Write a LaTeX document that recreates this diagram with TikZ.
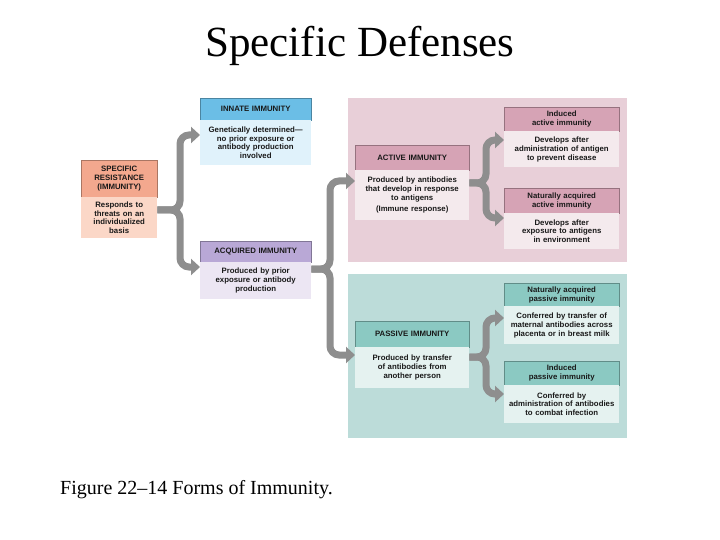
\documentclass[tikz,border=0pt]{standalone}
\usepackage{fontspec}
\setmainfont{Liberation Serif}
\newfontfamily\lsans{Liberation Sans}
\usetikzlibrary{arrows.meta}
\definecolor{arrowgray}{HTML}{8E8E8E}
\tikzset{
  x=1pt,y=-1pt,
  box/.style={anchor=north west,inner sep=0.5pt,align=center,font=\lsans\fontsize{7.8}{8.8}\selectfont\bfseries,text=black!90},
  conn/.style={draw=arrowgray,line width=7pt,rounded corners=9pt,-{Triangle[length=9pt,width=16pt]}},
}
\newcommand{\bx}[9]{%
  \node[box,fill=#7,draw=#7!70!black,line width=0.4pt,minimum width=#4pt,minimum height=#5pt,text width=#4pt-1pt] (#1h) at (#2,#3) {#8};
  \node[box,fill=#9,minimum width=#4pt,minimum height=#6pt,text width=#4pt-1pt] (#1b) at (#2,#3+#5) {\bodytext};}
\begin{document}
\begin{tikzpicture}
\useasboundingbox (0,0) rectangle (720,540);
\node[font=\fontsize{43}{46}\selectfont] (title) at (360,46) {Specific Defenses};
\node[anchor=west,inner sep=0pt,font=\fontsize{20}{22}\selectfont] (cap) at (60,490) {Figure 22–14 Forms of Immunity.};
\fill[fill={rgb,255:red,232;green,207;blue,216}] (348,98) rectangle (627,262);
\fill[fill={rgb,255:red,188;green,220;blue,217}] (348,274) rectangle (627,438);
\colorlet{srH}{rgb,255:red,243;green,168;blue,142}\colorlet{srB}{rgb,255:red,251;green,215;blue,199}
\colorlet{inH}{rgb,255:red,107;green,190;blue,230}\colorlet{inB}{rgb,255:red,224;green,242;blue,251}
\colorlet{acH}{rgb,255:red,185;green,168;blue,214}\colorlet{acB}{rgb,255:red,236;green,230;blue,243}
\colorlet{pkH}{rgb,255:red,214;green,163;blue,181}\colorlet{pkB}{rgb,255:red,244;green,234;blue,237}
\colorlet{tlH}{rgb,255:red,139;green,201;blue,194}\colorlet{tlB}{rgb,255:red,229;green,242;blue,240}
\def\bodytext{Responds to\\threats on an\\individualized\\basis}
\bx{sr}{81}{160}{76}{37}{41}{srH}{SPECIFIC\\RESISTANCE\\(IMMUNITY)}{srB}
\def\bodytext{Genetically determined—\\no prior exposure or\\antibody production\\involved}
\bx{in}{200}{98}{111}{22}{45}{inH}{INNATE IMMUNITY}{inB}
\def\bodytext{Produced by prior\\exposure or antibody\\production}
\bx{aq}{200}{241}{111}{21}{37}{acH}{ACQUIRED IMMUNITY}{acB}
\def\bodytext{Produced by antibodies\\that develop in response\\to antigens\\[3pt](Immune response)}
\bx{ac}{355}{145}{114}{25}{50}{pkH}{ACTIVE IMMUNITY}{pkB}
\def\bodytext{Develops after\\administration of antigen\\to prevent disease}
\bx{ia}{504}{107}{115}{24}{36}{pkH}{Induced\\active immunity}{pkB}
\def\bodytext{Develops after\\exposure to antigens\\in environment}
\bx{na}{504}{188}{115}{25}{36}{pkH}{Naturally acquired\\active immunity}{pkB}
\def\bodytext{Produced by transfer\\of antibodies from\\another person}
\bx{pa}{355}{321}{114}{26}{41}{tlH}{PASSIVE IMMUNITY}{tlB}
\def\bodytext{Conferred by transfer of\\maternal antibodies across\\placenta or in breast milk}
\bx{np}{504}{283}{115}{23}{38}{tlH}{Naturally acquired\\passive immunity}{tlB}
\def\bodytext{Conferred by\\administration of antibodies\\to combat infection}
\bx{ip}{504}{361}{115}{24}{38}{tlH}{Induced\\passive immunity}{tlB}
\draw[conn] (srb.east |- 0,210) -- (180,210) |- (inb.west |- 0,135);
\draw[conn] (srb.east |- 0,210) -- (180,210) |- (aqb.west |- 0,267);
\draw[conn] (aqb.east |- 0,269) -- (330,269) |- (acb.west |- 0,181);
\draw[conn] (aqb.east |- 0,269) -- (330,269) |- (pab.west |- 0,355);
\draw[conn] (acb.east |- 0,183) -- (486,183) |- (iab.west |- 0,140);
\draw[conn] (acb.east |- 0,183) -- (486,183) |- (nab.west |- 0,218);
\draw[conn] (pab.east |- 0,357) -- (486,357) |- (npb.west |- 0,318);
\draw[conn] (pab.east |- 0,357) -- (486,357) |- (ipb.west |- 0,394);
\end{tikzpicture}
\end{document}
